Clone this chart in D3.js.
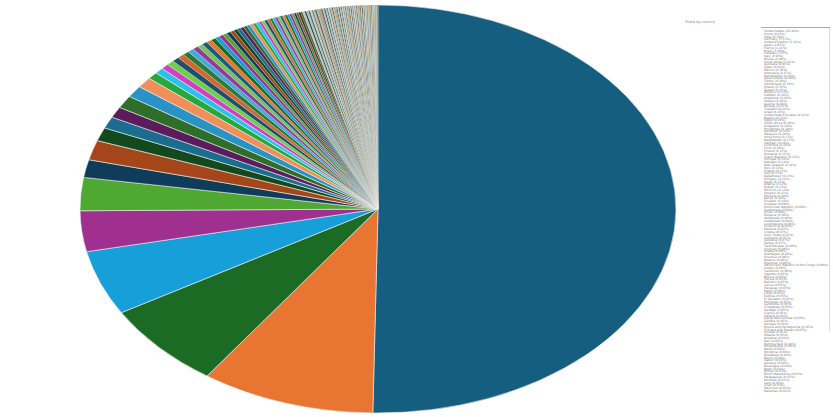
<!DOCTYPE html>
<html>
<head>
<meta charset="utf-8">
<script src="https://cdn.jsdelivr.net/npm/d3@7"></script>
<style>
  html, body { margin: 0; padding: 0; background: #fff; }
  svg { display: block; font-family: "DejaVu Sans", sans-serif; }
</style>
</head>
<body>
<svg id="chart" width="833" height="417"></svg>
<script>
// values (share, %), in drawing order
const labels = ["United States", "China", "India", "Germany", "United Kingdom", "Japan", "France", "Brazil", "Canada", "Italy",
  "Russia", "South Korea", "Australia", "Spain", "Mexico", "Indonesia", "Netherlands", "Saudi Arabia", "Turkey", "Switzerland",
  "Poland", "Taiwan", "Belgium", "Sweden", "Argentina", "Ireland", "Austria", "Norway", "Thailand", "Israel",
  "United Arab Emirates", "Nigeria", "Egypt", "South Africa", "Singapore", "Philippines", "Denmark", "Malaysia", "Hong Kong", "Bangladesh",
  "Vietnam", "Colombia", "Chile", "Finland", "Romania", "Czech Republic", "Portugal", "Pakistan", "New Zealand", "Peru",
  "Greece", "Iraq", "Kazakhstan", "Hungary", "Qatar", "Algeria", "Kuwait", "Morocco", "Ukraine", "Ethiopia",
  "Kenya", "Ecuador", "Slovakia", "Dominican Republic", "Guatemala", "Oman", "Bulgaria", "Venezuela", "Uzbekistan", "Luxembourg",
  "Costa Rica", "Panama", "Croatia", "Ivory Coast", "Lithuania", "Tanzania", "Serbia", "Turkmenistan", "Uruguay", "Ghana",
  "Azerbaijan", "Slovenia", "Belarus", "Myanmar", "Democratic Republic of the Congo", "Jordan", "Cameroon", "Uganda", "Bolivia", "Tunisia",
  "Bahrain", "Latvia", "Paraguay", "Nepal", "Libya", "Estonia", "El Salvador", "Honduras", "Cambodia", "Zimbabwe",
  "Senegal", "Cyprus", "Iceland", "Papua New Guinea", "Zambia", "Georgia", "Bosnia and Herzegovina", "Trinidad and Tobago", "Guinea", "Albania",
  "Armenia", "Mali", "Burkina Faso", "Mozambique", "Malta", "Mongolia", "Botswana", "Benin", "Gabon", "Jamaica",
  "Nicaragua", "Niger", "Brunei", "North Macedonia", "Madagascar", "Moldova", "Laos", "Chad", "Mauritius", "Bahamas"];

const bigValues = [50.0, 9.4, 6.75, 5.1, 3.2, 2.6, 1.4, 1.55, 1.06, 0.92, 0.86, 1.0, 0.92, 0.83, 0.56, 0.47, 0.42];
const midValues = [0.40, 0.38, 0.36, 0.35, 0.33, 0.31, 0.30, 0.29, 0.28, 0.26, 0.25, 0.24, 0.23, 0.22, 0.21,
  0.20, 0.20, 0.19, 0.19, 0.18, 0.18, 0.17, 0.17, 0.16, 0.16, 0.16, 0.15, 0.15, 0.15, 0.14, 0.14, 0.14,
  0.13, 0.13, 0.13, 0.13, 0.12, 0.12, 0.12, 0.12];
const tailValues = [0.11, 0.11, 0.10, 0.10, 0.10, 0.09, 0.09, 0.09, 0.09, 0.08, 0.08, 0.08, 0.08, 0.08,
  0.07, 0.07, 0.07, 0.07, 0.07, 0.07, 0.06, 0.06, 0.06, 0.06, 0.06, 0.06, 0.06, 0.06, 0.06, 0.06,
  0.05, 0.05, 0.05, 0.05, 0.05, 0.05, 0.05, 0.05, 0.05, 0.05, 0.05, 0.05, 0.05, 0.05, 0.05, 0.05,
  0.05, 0.05, 0.05, 0.05, 0.05, 0.05, 0.05, 0.04, 0.04, 0.04, 0.04, 0.04, 0.04, 0.04, 0.04, 0.04,
  0.04, 0.04, 0.04, 0.03, 0.03, 0.03, 0.03, 0.03, 0.03, 0.03, 0.03];

// strong colours cycle through the larger slices, muted/grey ones at the end of the tail
const strongColors = ["#155e80", "#e97532", "#1b6b24", "#169fd8", "#a0308f", "#4ea832",
  "#0f3c58", "#a4461a", "#134a1d", "#1a6d8e", "#5b1c5c", "#2f6e28",
  "#2a93c6", "#f08f5a", "#27a83c", "#2ec0e8", "#d23ec4", "#6ed04a",
  "#1f4e6e", "#d0682c", "#2c7a3a", "#4aa8d8", "#8e3e9a", "#7cc05a"];
const paleColors = ["#a9c7b6", "#5c6d66", "#b7cfdc", "#7a8068", "#c9b38f", "#4f5e6a",
  "#98bba0", "#b88a58", "#8797a4", "#6a5a40", "#aecaca", "#3e4e44"];
const STRONG_COUNT = 57;

const values = bigValues.concat(midValues, tailValues);
const data = labels.map((name, i) => ({ name: name, value: values[i], index: i }));

var svg = d3.select("#chart"),
    cx = 378, cy = 209, rx = 298, ry = 204, R = 100;

function sliceColor(i) {
  return i < STRONG_COUNT ? strongColors[i % strongColors.length] : paleColors[i % paleColors.length];
}

var pie = d3.pie().sort(null).value(d => d.value);
var arc = d3.arc().innerRadius(0).outerRadius(R);

// the pie is stretched into an ellipse
var g = svg.append("g")
  .attr("transform", "translate(" + cx + "," + cy + ") scale(" + (rx / R) + "," + (ry / R) + ")");

g.selectAll("path")
  .data(pie(data))
  .enter().append("path")
  .attr("d", arc)
  .attr("fill", d => sliceColor(d.data.index))
  .attr("stroke", "#eeeeee")
  .attr("stroke-width", d => d.data.index < 17 ? 0.6 : (d.data.index < STRONG_COUNT ? 0.25 : 0.12))
  .attr("vector-effect", "non-scaling-stroke");

// title
svg.append("text")
  .attr("x", 700).attr("y", 23)
  .attr("text-anchor", "middle")
  .attr("font-size", 3.5)
  .attr("fill", "#888")
  .text("Share by country");

// legend
var total = d3.sum(values);
var ly = d3.scalePoint().domain(labels).range([31, 391]);

svg.append("line")
  .attr("x1", 761).attr("x2", 830).attr("y1", 27.5).attr("y2", 27.5)
  .attr("stroke", "#aaa").attr("stroke-width", 1);
svg.append("line")
  .attr("x1", 829.5).attr("x2", 829.5).attr("y1", 28).attr("y2", 332)
  .attr("stroke", "#ddd").attr("stroke-width", 1);

var legend = svg.append("g").attr("font-size", 3);
legend.selectAll("text")
  .data(data)
  .enter().append("text")
  .attr("x", 764)
  .attr("y", d => ly(d.name) + 1)
  .attr("fill", "#777")
  .text(d => d.name + " (" + d3.format(".2f")(d.value / total * 100) + "%)");
</script>
</body>
</html>
